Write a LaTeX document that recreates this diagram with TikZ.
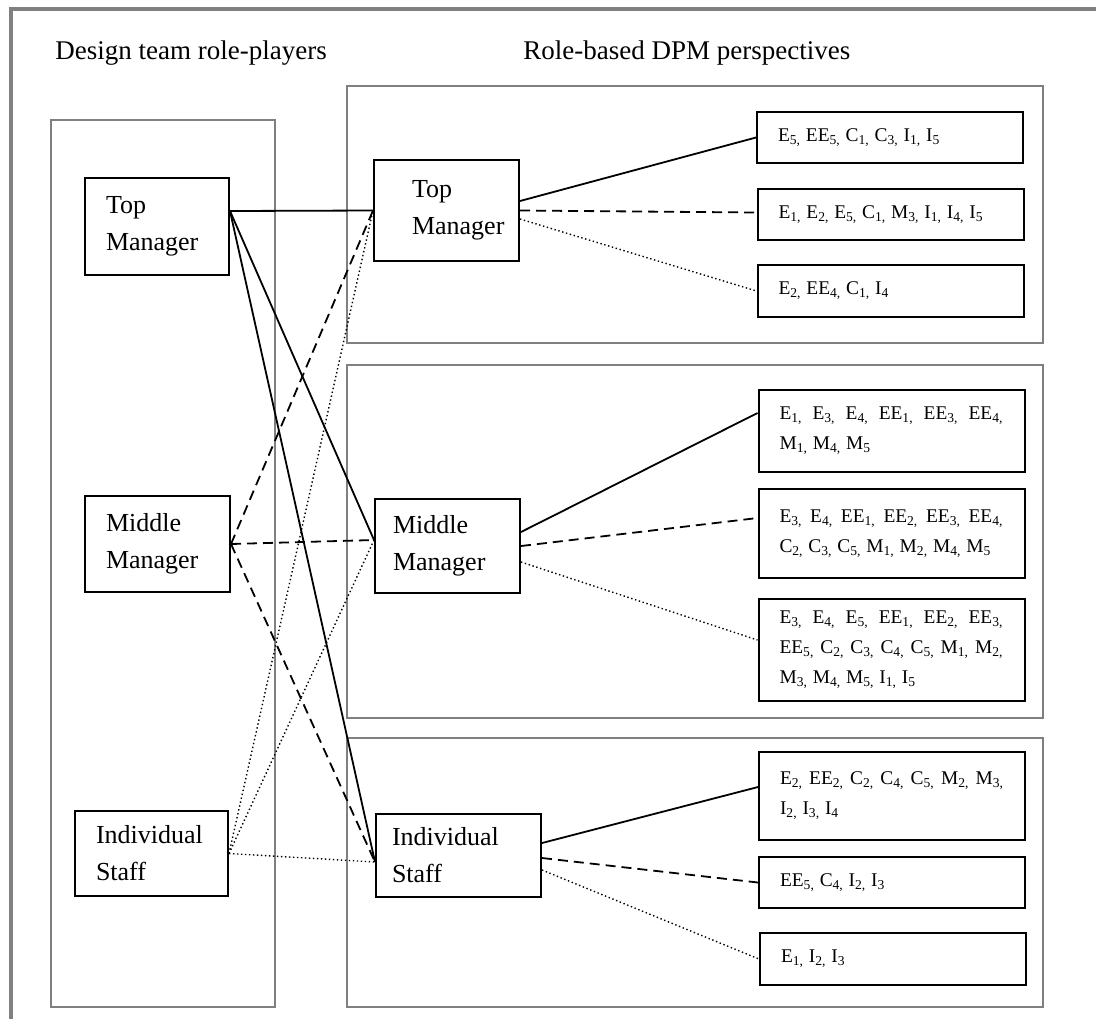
\documentclass[tikz,border=0pt]{standalone}
\usepackage{fontspec}
\setmainfont{Liberation Serif}
\definecolor{framegray}{RGB}{128,128,128}
\newcommand{\ix}[1]{\textsubscript{#1}}
\tikzset{
  outerframe/.style={framegray,line width=1.75pt},
  group/.style={framegray,line width=1pt},
  title/.style={font=\fontsize{13.5}{15}\selectfont,anchor=base west,inner sep=0pt},
  role/.style={
    draw,
    rectangle,
    line width=1pt,
    align=left,
    font=\fontsize{13}{18.5}\selectfont
  },
  dpm/.style={
    draw,
    rectangle,
    line width=1pt,
    text width=112pt,
    inner xsep=10.5pt,
    align=justify,
    font=\fontsize{9.7}{15}\selectfont
  },
  solidlink/.style={line width=0.9pt},
  dashlink/.style={line width=0.9pt,dash pattern=on 5pt off 3pt},
  dotlink/.style={line width=0.7pt,dash pattern=on 0.7pt off 1.3pt},
}

\begin{document}
\begin{tikzpicture}[x=0.5pt,y=-0.5pt]
  \useasboundingbox (0,0) rectangle (1096,1019);
  \draw[outerframe] (1096,9) -- (11,9) -- (11,1019);

  \node[title] (hdrroles) at (55,59) {Design team role-players};
  \node[title] (hdrdpm) at (523,59) {Role-based DPM perspectives};

  \draw[group] (51,120) rectangle (275,1007);
  \draw[group] (347,86) rectangle (1043,343);
  \draw[group] (347,365) rectangle (1043,718);
  \draw[group] (347,738) rectangle (1043,1007);

  % design team
  \node[role,text width=51pt,inner xsep=10.5pt,minimum height=48.5pt] (tmL) at (157,226.5) {Top\\Manager};
  \node[role,text width=51.5pt,inner xsep=10.5pt,minimum height=48pt] (mmL) at (157.5,544) {Middle\\Manager};
  \node[role,text width=55.5pt,inner xsep=10.5pt,minimum height=42.5pt] (isL) at (151.5,853.5) {Individual\\Staff};

  % perspectives
  \node[role,text width=34.5pt,inner xsep=19pt,minimum height=50.5pt] (tmR) at (446.5,210.5) {Top\\Manager};
  \node[role,text width=54.5pt,inner xsep=9pt,minimum height=47pt] (mmR) at (447.5,546) {Middle\\Manager};
  \node[role,text width=66.5pt,inner xsep=8pt,minimum height=41.5pt] (isR) at (458.5,855.5) {Individual\\Staff};

  \node[dpm,minimum height=25.5pt] (tp1) at (890,137.5) {E\ix{5,} EE\ix{5,} C\ix{1,} C\ix{3,} I\ix{1,} I\ix{5}};
  \node[dpm,minimum height=25.5pt] (tp2) at (890.5,214.5) {E\ix{1,} E\ix{2,} E\ix{5,} C\ix{1,} M\ix{3,} I\ix{1,} I\ix{4,} I\ix{5}};
  \node[dpm,minimum height=26pt] (tp3) at (890.5,291) {E\ix{2,} EE\ix{4,} C\ix{1,} I\ix{4}};

  \node[dpm,minimum height=41pt] (mp1) at (891.5,431) {E\ix{1,} E\ix{3,} E\ix{4,} EE\ix{1,} EE\ix{3,} EE\ix{4,}\linebreak M\ix{1,} M\ix{4,} M\ix{5}};
  \node[dpm,minimum height=44.5pt] (mp2) at (891.5,533.5) {E\ix{3,} E\ix{4,} EE\ix{1,} EE\ix{2,} EE\ix{3,} EE\ix{4,}\linebreak C\ix{2,} C\ix{3,} C\ix{5,} M\ix{1,} M\ix{2,} M\ix{4,} M\ix{5}};
  \node[dpm,minimum height=51pt] (mp3) at (891.5,650) {E\ix{3,} E\ix{4,} E\ix{5,} EE\ix{1,} EE\ix{2,} EE\ix{3,}\linebreak EE\ix{5,} C\ix{2,} C\ix{3,} C\ix{4,} C\ix{5,} M\ix{1,} M\ix{2,}\linebreak M\ix{3,} M\ix{4,} M\ix{5,} I\ix{1,} I\ix{5}};

  \node[dpm,minimum height=44pt] (ip1) at (892,796) {E\ix{2,} EE\ix{2,} C\ix{2,} C\ix{4,} C\ix{5,} M\ix{2,} M\ix{3,}\linebreak I\ix{2,} I\ix{3,} I\ix{4}};
  \node[dpm,minimum height=25.5pt] (ip2) at (892,882.5) {EE\ix{5,} C\ix{4,} I\ix{2,} I\ix{3}};
  \node[dpm,minimum height=26pt] (ip3) at (893,959) {E\ix{1,} I\ix{2,} I\ix{3}};

  % role-players to perspectives
  \foreach \dst/\dy in {tmR/0pt,mmR/3pt,isR/-3.25pt}
    \draw[solidlink] ([yshift=7.75pt]tmL.east) -- ([yshift=\dy]\dst.west);
  \foreach \dst/\dy in {tmR/0pt,mmR/3pt,isR/-3.25pt}
    \draw[dashlink] (mmL.east) -- ([yshift=\dy]\dst.west);
  \foreach \dst/\dy in {tmR/0pt,mmR/3pt,isR/-3.25pt}
    \draw[dotlink] (isL.east) -- ([yshift=\dy]\dst.west);

  % perspectives to DPM sets
  \draw[solidlink] ([yshift=4.75pt]tmR.east) -- (tp1.west);
  \draw[dashlink] (tmR.east) -- ([yshift=1pt]tp2.west);
  \draw[dotlink] ([yshift=-4.25pt]tmR.east) -- (tp3.west);

  \draw[solidlink] ([yshift=7pt]mmR.east) -- ([yshift=9pt]mp1.west);
  \draw[dashlink] (mmR.east) -- ([yshift=7.75pt]mp2.west);
  \draw[dotlink] ([yshift=-8pt]mmR.east) -- ([yshift=5pt]mp3.west);

  \draw[solidlink] ([yshift=6.25pt]isR.east) -- ([yshift=4.5pt]ip1.west);
  \draw[dashlink] ([yshift=-1.25pt]isR.east) -- (ip2.west);
  \draw[dotlink] ([yshift=-7.25pt]isR.east) -- (ip3.west);
\end{tikzpicture}
\end{document}
